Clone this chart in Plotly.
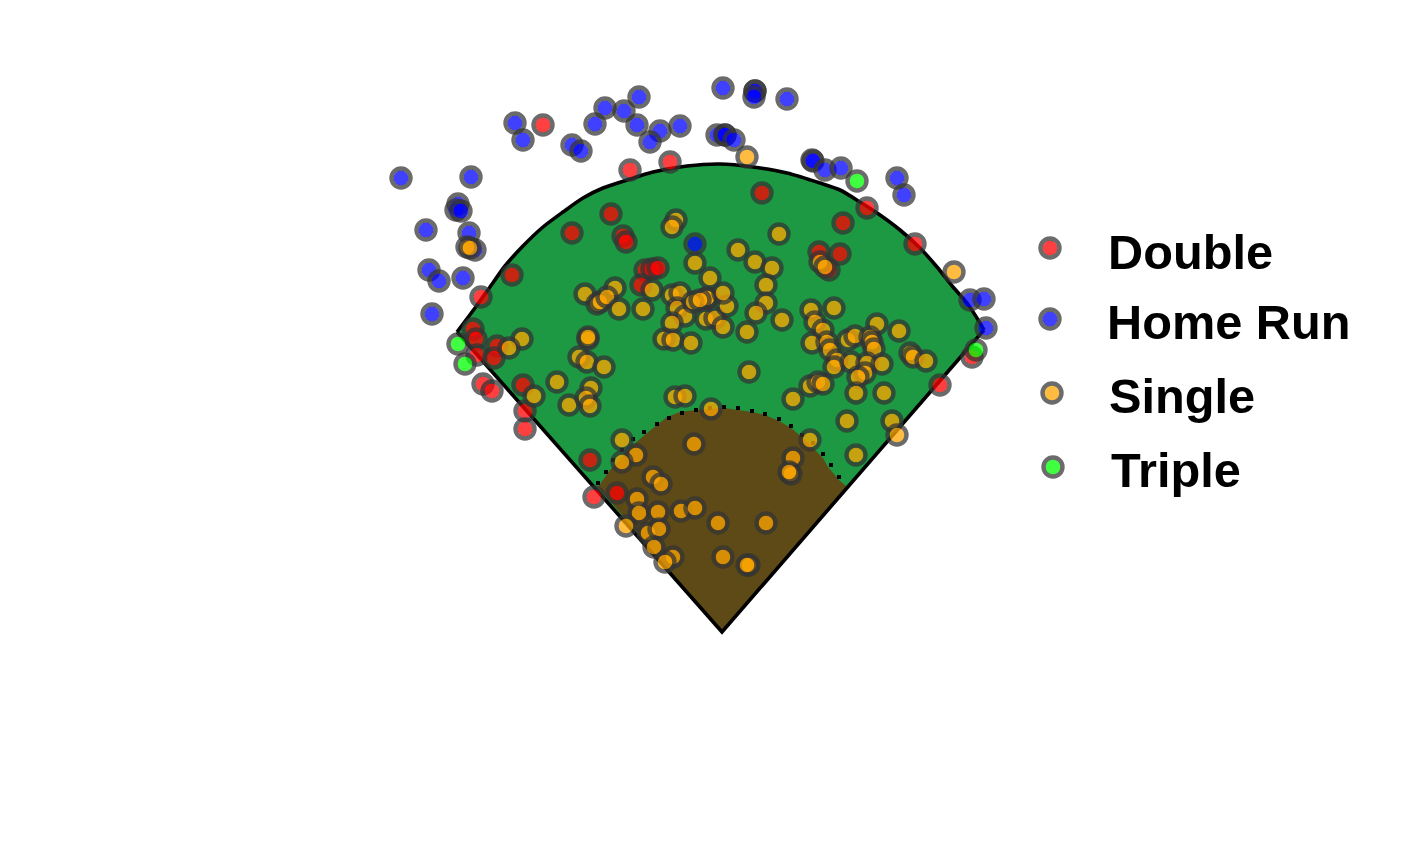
import plotly.graph_objects as go

# Hit locations, measured from home plate (x: toward right field, y: toward centre field)
double_x = [-179,-92,-52,-111,-150,-99,-96,-210,-241,-77,-70,-64,-81,40,145,121,97,118,107,193,-249,-246,-245,-225,-228,-239,-230,-199,-197,-197,-132,218,250,-128,-105]
double_y = [507,462,470,418,399,396,390,357,335,362,363,364,347,439,424,409,380,378,362,388,303,293,277,286,274,248,241,247,221,203,172,247,275,135,139]

homerun_x = [-321,-251,-264,-266,-261,-296,-253,-247,-293,-283,-259,-290,-207,-199,-150,-141,-127,-117,-98,-83,-85,-62,-72,-42,-27,1,33,33,32,65,-5,3,3,12,90,91,103,119,175,182,248,262,264]
homerun_y = [454,455,428,422,421,402,399,382,362,351,354,318,509,492,487,481,508,524,521,535,507,501,490,506,388,544,541,541,535,533,497,497,497,492,472,471,462,464,454,437,332,333,304]

single_x = [25,232,-255,-252,-46,-50,-137,-107,-125,-122,-115,-103,-79,-70,-50,-42,-45,-37,-50,-58,-49,-31,-15,-15,-29,-16,-7,1,5,1,-22,-27,-12,16,33,50,57,44,44,34,60,25,89,112,93,101,90,105,108,115,112,129,126,133,155,177,148,150,152,145,160,143,136,188,191,204,27,71,88,96,101,134,162,125,170,175,134,88,71,69,67,98,103,-28,-100,-86,-100,-69,-61,-85,-83,-64,-41,-27,-4,44,-96,-74,-63,-68,-49,-57,1,27,25,-200,-213,-134,-134,-143,-135,-118,-165,-188,-153,-131,-136,-132,-47,-37,-11]
single_y = [475,360,385,384,412,405,338,344,328,330,335,323,323,342,337,339,324,316,309,293,292,289,334,334,330,313,314,305,326,339,332,369,354,382,370,364,398,347,329,319,312,300,322,324,310,302,289,290,282,272,265,270,292,296,308,301,295,290,283,269,268,259,255,279,275,271,260,233,246,250,248,239,239,211,211,197,177,192,174,158,160,370,365,188,192,177,170,155,148,133,119,120,121,124,109,109,106,99,103,85,75,70,75,67,67,293,284,293,295,275,270,265,250,236,227,244,234,226,235,236,223]

triple_x = [135,-264,-257,254]
triple_y = [451,288,268,282]

# Field outline
fence_x = [-265,-247,-232,-217,-200,-179,-159,-139,-119,-95,-69,-35,-2,31,65,98,118,138,158,178,198,215,231,245,258,262]
fence_y = [300,324,345,366,385,405,420,434,444,452,460,466,468,465,459,449,442,430,417,402,384,365,345,329,309,302]
infield_x = [0,-124,-112,-100,-89,-75,-55,-42,-26,2,30,43,57,69,80,91,101,106,117,125,0]
infield_y = [0,145,162,175,187,199,215,220,222,224,220,217,211,204,195,184,174,165,152,145,0]
skin_line_x = [-124,-116,-109,-100,-89,-78,-65,-53,-40,-26,-12,2,16,30,43,57,69,80,91,101,109,117]
skin_line_y = [149,160,172,182,193,200,208,214,219,222,224,225,224,221,218,213,206,197,189,178,167,155]

legend_labels = ["Double", "Home Run", "Single", "Triple"]
legend_key_x = [328, 328, 330, 331]
legend_key_y = [384, 313, 239, 165]
legend_text_x = [384, 383, 385, 387]
legend_text_y = [380, 310, 236, 162]

FILLS = ["rgba(255,0,0,0.75)", "rgba(0,0,255,0.75)", "rgba(255,165,0,0.75)", "rgba(0,255,0,0.75)"]
RING = "rgba(52,52,52,0.73)"
CLEAR = "rgba(0,0,0,0)"
FILL_SIZE, RING_SIZE, RING_WIDTH = 15, 19, 4.4

fig = go.Figure()

# Outfield grass
fig.add_trace(go.Scatter(x=[0] + fence_x + [0], y=[0] + fence_y + [0], mode="lines",
                         fill="toself", fillcolor="#1d9943", line=dict(width=0), hoverinfo="skip"))
# Infield skin
fig.add_trace(go.Scatter(x=infield_x, y=infield_y, mode="lines", fill="toself",
                         fillcolor="#5e4a17", line=dict(width=0), hoverinfo="skip"))
# Infield dotted edge
fig.add_trace(go.Scatter(x=skin_line_x, y=skin_line_y, mode="markers",
                         marker=dict(color="black", size=4, symbol="square"), hoverinfo="skip"))
# Fence and foul lines
fig.add_trace(go.Scatter(x=fence_x, y=fence_y, mode="lines",
                         line=dict(color="black", width=3.6, shape="spline", smoothing=0.7), hoverinfo="skip"))
fig.add_trace(go.Scatter(x=[fence_x[0], 0, fence_x[-1]], y=[fence_y[0], 0, fence_y[-1]], mode="lines",
                         line=dict(color="black", width=3.6), hoverinfo="skip"))


def add_points(xs, ys, fill_colour, label):
    """Each point is a fill then a ring, in data order, so the fill does not tint its own ring."""
    n = len(xs)
    fig.add_trace(go.Scatter(
        x=[v for v in xs for _ in (0, 1)],
        y=[v for v in ys for _ in (0, 1)],
        mode="markers", name=label,
        marker=dict(
            opacity=1,
            size=[FILL_SIZE, RING_SIZE] * n,
            color=[fill_colour, CLEAR] * n,
            line=dict(color=[CLEAR, RING] * n, width=[0, RING_WIDTH] * n),
        ),
    ))


series = [(double_x, double_y), (homerun_x, homerun_y), (single_x, single_y), (triple_x, triple_y)]
for (xs, ys), fill_colour, label in zip(series, FILLS, legend_labels):
    add_points(xs, ys, fill_colour, label)

# Legend keys
for kx, ky, fill_colour, label in zip(legend_key_x, legend_key_y, FILLS, legend_labels):
    add_points([kx], [ky], fill_colour, label)

for tx, ty, label in zip(legend_text_x, legend_text_y, legend_labels):
    fig.add_annotation(x=tx, y=ty, text=label, showarrow=False, xanchor="left", yanchor="middle",
                       font=dict(family="Liberation Sans", size=48.7, color="black", weight=700))

fig.update_layout(
    width=1396, height=846, showlegend=False,
    margin=dict(l=0, r=0, t=0, b=0),
    paper_bgcolor="white", plot_bgcolor="white",
    xaxis=dict(range=[-714, 682], visible=False, fixedrange=True),
    yaxis=dict(range=[-222, 624], visible=False, fixedrange=True),
)

fig.write_html("out.html")
